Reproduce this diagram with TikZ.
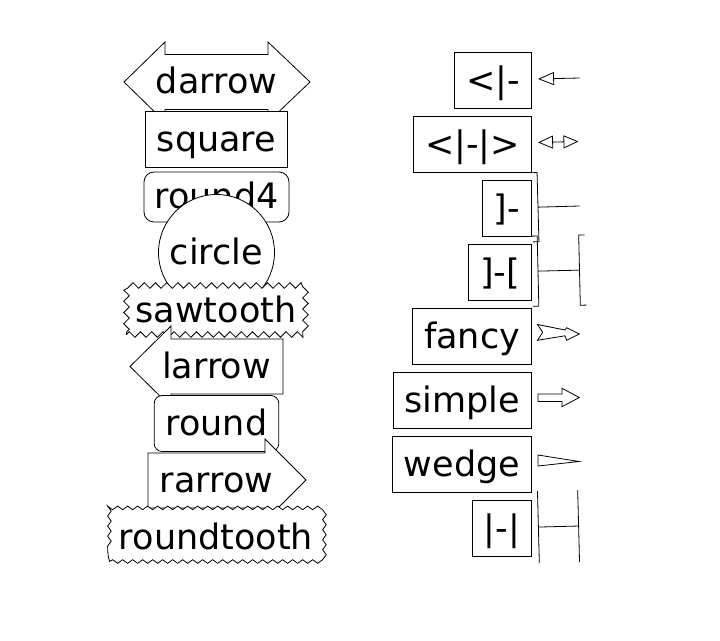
\documentclass[tikz,border=0pt]{standalone}
\usepackage{fontspec}
\setmainfont{DejaVu Sans}
\usetikzlibrary{arrows.meta,decorations.pathmorphing}
\tikzset{
  shpline/.style={draw=black,line width=0.8pt,fill=white},
  boxtext/.style={font=\fontsize{35}{42}\selectfont,text height=29.5pt,text depth=5.5pt,inner sep=0pt},
  lblbox/.style={shpline,boxtext,inner xsep=11.5pt,inner ysep=10.5pt},
  annbox/.style={lblbox,anchor=east},
  annline/.style={line width=0.8pt,shorten <=6pt},
  brkline/.style={line width=0.8pt},
}
\begin{document}
\begin{tikzpicture}[x=1pt,y=-1pt]
  \useasboundingbox (0,0) rectangle (720,640);
  % box styles, left column
  \draw[shpline] (124,82) -- (165,42) -- (165,54.5) -- (268,54.5) -- (268,42) -- (310,82)
    -- (268,122) -- (268,109.5) -- (165,109.5) -- (165,122) -- cycle;
  \node[boxtext] (nDarrow) at (216.5,81.5) {darrow};
  \node[lblbox] (nSquare) at (216.5,139.5) {square};
  \draw[shpline,rounded corners=10pt] (144,172) rectangle (289,222);
  \node[boxtext] (nRoundF) at (216.5,196.5) {round4};
  \node[shpline,boxtext,circle,minimum size=116pt] (nCircle) at (216.5,252.5) {circle};
  \node[shpline,boxtext,decorate,decoration={zigzag,segment length=11.2pt,amplitude=2.8pt},
    minimum width=179pt,minimum height=49pt] (nSaw) at (216,310) {sawtooth};
  \draw[shpline] (130,366.5) -- (171,326) -- (171,339) -- (283,339) -- (283,394)
    -- (171,394) -- (171,407) -- cycle;
  \node[boxtext] (nLarrow) at (216.5,366.5) {larrow};
  \node[lblbox,rounded corners=8pt] (nRound) at (216.5,423.5) {round};
  \draw[shpline] (148,453) -- (265,453) -- (265,439) -- (306,480) -- (265,521)
    -- (265,508) -- (148,508) -- cycle;
  \node[boxtext] (nRarrow) at (216.5,480.5) {rarrow};
  \node[shpline,boxtext,decorate,decoration={snake,segment length=10pt,amplitude=1.8pt},
    minimum width=213pt,minimum height=48pt] (nRtooth) at (216,537.5) {roundtooth};
  % arrow styles, right column
  \node[annbox] (nLtri) at (532,80) {<|-};
  \node[annbox] (nLtriR) at (532,144) {<|-|>};
  \node[annbox] (nBrk) at (532,208) {]-};
  \node[annbox] (nBrkBrk) at (532,272) {]-[};
  \node[annbox] (nFancy) at (532,336) {fancy};
  \node[annbox] (nSimple) at (532,400) {simple};
  \node[annbox] (nWedge) at (532,464) {wedge};
  \node[annbox] (nBar) at (532,528) {|-|};
  \coordinate (pLtri) at (579.5,78);
  \coordinate (pLtriR) at (578.5,141.5);
  \coordinate (pBrk) at (579.5,206);
  \coordinate (pBrkBrk) at (585.5,270);
  \coordinate (pBar) at (579,526);
  \draw[annline,{Triangle[open,length=16pt,width=13pt]}-] (nLtri) -- (pLtri);
  \draw[annline,{Triangle[open,length=15pt,width=13pt]}-{Triangle[open,length=15pt,width=13pt]}] (nLtriR) -- (pLtriR);
  \draw[brkline,{Bracket[reversed,width=70pt,length=6pt]}-] (nBrk) -- (pBrk);
  \draw[brkline,{Bracket[reversed,width=71pt,length=6pt]}-{Bracket[reversed,width=71pt,length=6pt]}] (nBrkBrk) -- (pBrkBrk);
  \draw[shpline] (537.5,324.5) -- (565,330) -- (566.7,327.7) -- (579.3,334) -- (566.7,340.3)
    -- (565,335.8) -- (537.5,340.3) -- (542.7,332.4) -- cycle;
  \draw[shpline] (538,394) -- (562,394) -- (562,388.3) -- (579.3,397.5) -- (562,406.7)
    -- (562,401.5) -- (538,401.5) -- cycle;
  \draw[shpline] (538,455) -- (579,461.5) -- (538,466) -- cycle;
  \draw[annline,{Bar[width=72pt]}-{Bar[width=72pt]}] (nBar) -- (pBar);
\end{tikzpicture}
\end{document}
